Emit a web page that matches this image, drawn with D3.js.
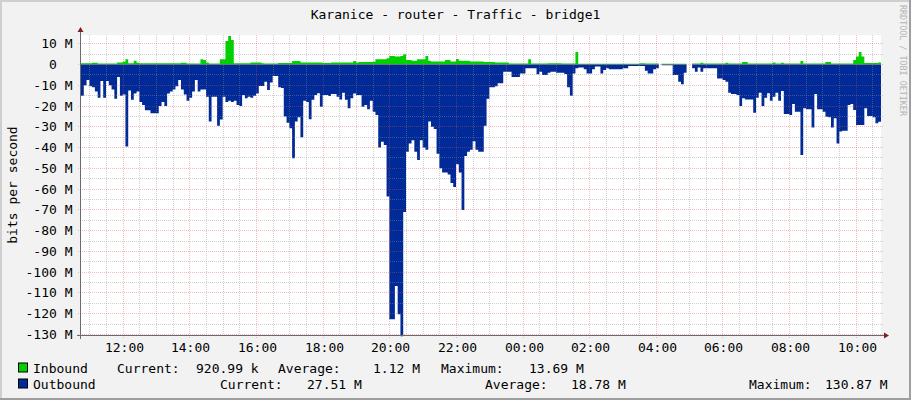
<!DOCTYPE html>
<html><head><meta charset="utf-8">
<script src="https://cdn.jsdelivr.net/npm/d3@7"></script>
<style>
html,body{margin:0;padding:0;background:#f2f2f2;}
svg{display:block;}
text{font-family:"DejaVu Sans Mono",monospace;}
</style></head><body>
<svg id="chart" width="911" height="400"></svg>
<script>
const chartTitle = "Karanice - router - Traffic - bridge1";
const yAxisTitle = "bits per second";
const watermark = "RRDTOOL / TOBI OETIKER";
const startTime = new Date(2024, 4, 14, 10, 44, 24);
const stepMinutes = 5;
const spanHours = 24;
// Mbit/s, 5-minute samples (null = unknown)
const inbound = [
0.6,0.6,0.6,0.6,0.8,0.8,0.5,0.5,0.5,0.5,
0.5,0.5,0.5,0.9,0.9,1.3,2.5,0.6,0.6,1.8,
0.8,0.6,0.6,0.6,0.6,0.6,0.6,0.6,0.6,0.6,
0.6,0.6,0.6,0.6,0.6,0.6,0.8,0.8,0.5,0.5,
0.5,0.5,0.5,2.5,2.2,1.0,0.5,0.5,0.5,0.5,
2.5,2.5,11.3,13.69,11.8,0.6,0.6,0.6,0.6,0.6,
0.6,0.9,0.9,0.9,0.9,0.6,0.5,0.5,0.5,0.5,
0.5,0.7,0.7,0.7,0.7,0.7,1.7,1.7,1.7,0.9,
0.9,1.0,1.0,1.0,1.0,0.9,0.9,0.7,0.7,0.7,
0.9,0.9,0.9,0.9,0.9,1.0,1.0,1.0,1.7,1.0,
1.2,1.2,1.2,1.2,1.2,1.3,2.5,2.5,2.5,2.5,
3.0,4.1,4.1,3.8,3.8,4.1,4.9,2.2,2.2,1.8,
1.8,2.5,2.5,2.5,4.1,1.8,1.4,1.4,1.4,1.4,
1.4,2.2,2.2,1.4,1.4,2.6,1.8,1.8,1.8,1.8,
1.4,1.4,1.4,1.4,1.4,1.2,1.2,1.2,1.2,0.9,
0.9,0.9,0.9,0.9,0.5,0.5,0.5,0.5,0.5,0.5,
0.5,2.5,0.5,0.5,0.5,0.5,0.5,0.5,0.6,0.6,
0.6,0.6,0.6,0.5,0.5,0.5,0.5,0.5,6.0,0.4,
0.4,0.4,0.4,0.4,0.4,0.4,0.4,0.4,0.4,0.4,
0.4,0.4,0.4,0.4,0.4,0.4,0.4,0.4,0.4,0.4,
0.4,0.6,0.6,0.5,0.5,0.5,0.5,0.5,null,0.4,
0.4,0.4,0.4,0.4,0.4,0.4,0.4,0.4,null,null,
0.5,0.5,0.5,0.8,0.5,0.5,0.5,0.5,0.5,0.5,
0.5,0.5,0.8,0.5,0.5,0.5,0.5,0.5,1.2,1.2,
0.5,0.5,0.5,0.5,0.5,0.5,0.5,0.5,0.5,1.0,
0.5,0.5,0.8,0.5,0.5,0.5,0.5,0.5,0.5,1.7,
0.5,0.5,0.5,0.5,0.5,0.5,0.5,0.5,1.2,1.2,
0.5,0.5,0.5,0.5,0.5,0.5,0.5,0.5,2.2,3.8,
6.0,3.8,0.7,0.7,0.7,0.7,0.7,0.92
];
const outbound = [
15,10,7.5,10.5,11,13,16,8,16,8,
10,12,16.5,6,15,14.5,39.5,12.5,17,14,
13,18,19.5,22,22,23.5,23.5,23.5,20,18,
20,14,13,12,10.5,7.5,12,14.5,17.5,16,
13,7.5,13,12,12,15.5,27.5,15.5,15.5,29.5,
26.5,15.5,18,17.5,18,17.5,19.5,20,14.7,16.3,
15.5,16,15,14,10.4,10.4,8.3,12.3,8.7,5.5,
5.5,11,11.3,25,28,30.7,45.2,27.5,25.4,35,
17.4,18,26.4,17,14.7,13.9,20.3,14.7,14.7,15.2,
14.2,14.2,15.5,16.8,13.6,17,21.1,16.3,14,14.7,
14.7,20.3,19.5,21.6,17.4,22.7,24.3,40,37.2,38.8,
63.6,122.7,122.7,106.6,120.2,130.87,71,42,38,36.5,
42,46,36.5,40,41,27.5,30,31,43,50,
52,52,53,57,59,48,52,70,44,42,
41,37,41,42,42,29.5,16.5,11,11,10.5,
9,9,3.5,3.5,3.5,6,6,6,4.3,4.3,
1.8,1.8,1.8,1.8,4.7,3.5,5,5,4,3.5,
3.5,4,4,4,4.6,11,15,4.3,1.8,1.4,
1.4,2.3,4.3,4.3,2.3,1,1,4.3,2.6,1.8,
2.3,2.3,2.3,2.3,2.3,1.8,1.8,0.7,0.7,0.7,
0.7,0.7,0.7,3,4.3,4.3,2.3,1.8,null,0.4,
0.4,0.4,0.4,5,5,8.3,9.5,4,null,null,
1.8,3.5,1.4,3.5,1.8,1.8,1.8,1.8,1.8,6.7,
6.7,7.5,8.3,13.6,14.2,14.2,14.7,20,16.3,16.8,
16.8,16.8,23.2,16,13.6,20,16,13.9,17.4,15.5,
13.6,17.4,12.8,23.8,23.8,24.3,19,22.7,22.7,43.6,
21.1,21.6,21.6,30.3,14.2,21.6,21.6,22.7,25.1,25.4,
30.3,25.9,38,32.3,31.9,31.9,19.5,19,21.9,29.1,
29.1,29.1,21.1,24.8,24.8,25.4,28.3,27.51
];
const yTickValues = [10,0,-10,-20,-30,-40,-50,-60,-70,-80,-90,-100,-110,-120,-130];
const yMinorValues = [5,-5,-15,-25,-35,-45,-55,-65,-75,-85,-95,-105,-115,-125];
const seriesNames = ["Inbound", "Outbound"];
const seriesColors = ["#00CF00", "#002A97"];
const statLabels = ["Current:", "Average:", "Maximum:"];
const inboundStats = ["920.99 k", "1.12 M", "13.69 M"];
const outboundStats = ["27.51 M", "18.78 M", "130.87 M"];

const W = 911, H = 400;
const X0 = 81, X1 = 881, Y0 = 335, Y1 = 35;
const FS = 13;
const svg = d3.select("#chart");

const endTime = new Date(+startTime + spanHours*3600e3);
const x = d3.scaleTime().domain([startTime, endTime]).range([X0, X1]);
const y = d3.scaleLinear().domain([-130.24, 14.2]).range([Y0, Y1]);

// background + 3D border
svg.append("rect").attr("width", W).attr("height", H).attr("fill", "#f2f2f2");
svg.append("path").attr("d", `M0,0H${W}V2H2V${H}H0Z`).attr("fill", "#cfcfcf");
svg.append("path").attr("d", `M${W},${H}H0V${H-2}H${W-2}V0H${W}Z`).attr("fill", "#9e9e9e");
svg.append("rect").attr("x", X0).attr("y", Y1).attr("width", X1-X0).attr("height", Y0-Y1).attr("fill", "#ffffff");

// series as step areas
function stepPoints(arr, sign) {
  const pts = [];
  arr.forEach((v, i) => {
    const t0 = new Date(+startTime + i*stepMinutes*60e3);
    const t1 = new Date(+startTime + (i+1)*stepMinutes*60e3);
    if (v == null) { pts.push(null); return; }
    pts.push({t: t0, v: sign*v}, {t: t1 > endTime ? endTime : t1, v: sign*v});
  });
  return pts;
}
const area = d3.area()
  .defined(d => d != null)
  .x(d => x(d.t))
  .y0(y(0))
  .y1(d => y(d.v));
svg.append("path").datum(stepPoints(inbound, 1)).attr("d", area).attr("fill", seriesColors[0]);
svg.append("path").datum(stepPoints(outbound, -1)).attr("d", area).attr("fill", seriesColors[1]);

// grid (drawn on top like rrdtool)
const grid = svg.append("g").attr("stroke-width", 1).attr("stroke-dasharray", "1,1").attr("fill", "none");
const px = v => Math.floor(v) + 0.5;
const minorCol = "rgba(143,143,143,0.42)";
const majorCol = "rgba(222,79,79,0.38)";
yMinorValues.forEach(v => {
  grid.append("line").attr("x1", X0-1).attr("x2", X1+2).attr("y1", px(y(v))).attr("y2", px(y(v)))
    .attr("stroke", minorCol);
});
const minorTimes = d3.timeMinute.every(30).range(startTime, endTime).filter(t => !(t.getMinutes() === 0 && t.getHours() % 2 === 0));
minorTimes.forEach(t => {
  grid.append("line").attr("y1", Y1).attr("y2", Y0+2).attr("x1", px(x(t))).attr("x2", px(x(t)))
    .attr("stroke", minorCol);
});
yTickValues.forEach(v => {
  grid.append("line").attr("x1", X0-3).attr("x2", X1+2).attr("y1", px(y(v))).attr("y2", px(y(v)))
    .attr("stroke", majorCol);
});
const majorTimes = d3.timeHour.every(2).range(startTime, endTime);
majorTimes.forEach(t => {
  grid.append("line").attr("y1", Y1).attr("y2", Y0+3).attr("x1", px(x(t))).attr("x2", px(x(t)))
    .attr("stroke", majorCol);
});

// axes
svg.append("line").attr("x1", X0-4).attr("x2", X1+4).attr("y1", Y0+0.5).attr("y2", Y0+0.5).attr("stroke", "#6a6a6a");
svg.append("line").attr("x1", X0-0.5).attr("x2", X0-0.5).attr("y1", Y0+4).attr("y2", Y1-4).attr("stroke", "#6a6a6a");
svg.append("path").attr("d", `M${X1+3},${Y0-2.5}L${X1+8},${Y0+0.5}L${X1+3},${Y0+3.5}Z`).attr("fill", "#801f1f");
svg.append("path").attr("d", `M${X0-3.5},${Y1-3}L${X0-0.5},${Y1-8}L${X0+2.5},${Y1-3}Z`).attr("fill", "#801f1f");

// y labels
const charW = FS*0.602;
const fmtY = v => v === 0 ? "0" : `${v} M`;
svg.append("g").selectAll("text").data(yTickValues).join("text")
  .attr("x", v => v === 0 ? 72.5 - 2*charW : 72.5)
  .attr("y", v => px(y(v)) + 4.5)
  .attr("text-anchor", "end").attr("font-size", FS).attr("fill", "#000")
  .text(fmtY);

// x labels
const fmtX = d3.timeFormat("%H:%M");
svg.append("g").selectAll("text").data(majorTimes).join("text")
  .attr("x", t => px(x(t)) + 1)
  .attr("y", 351.5)
  .attr("text-anchor", "middle").attr("font-size", FS).attr("fill", "#000")
  .text(fmtX);

// titles
svg.append("text").attr("x", 455.5).attr("y", 19).attr("text-anchor", "middle")
  .attr("font-size", FS).attr("fill", "#000").text(chartTitle);
svg.append("text").attr("transform", `translate(16.5,${(Y0+Y1)/2}) rotate(-90)`).attr("text-anchor", "middle")
  .attr("font-size", FS).attr("fill", "#000").text(yAxisTitle);
svg.append("text").attr("transform", `translate(899.5,5) rotate(90)`)
  .attr("font-size", 8.4).attr("fill", "#b4b4b4").text(watermark);

// legend
const legendRows = [
  {name: seriesNames[0], color: seriesColors[0], stats: inboundStats, y: 372.5,
   labelX: [117, 278, 441], valueX: [196, 373, 529]},
  {name: seriesNames[1], color: seriesColors[1], stats: outboundStats, y: 388.5,
   labelX: [220, 485, 749], valueX: [307, 571, 825]}
];
legendRows.forEach(r => {
  const g = svg.append("g").attr("font-size", FS).attr("fill", "#000");
  svg.append("rect").attr("x", 18.5).attr("y", r.y - 9.5).attr("width", 9).attr("height", 9)
    .attr("fill", r.color).attr("stroke", "#000").attr("stroke-width", 1);
  g.append("text").attr("x", 33).attr("y", r.y).text(r.name);
  statLabels.forEach((lab, i) => {
    g.append("text").attr("x", r.labelX[i]).attr("y", r.y).text(lab);
    g.append("text").attr("x", r.valueX[i]).attr("y", r.y).text(r.stats[i]);
  });
});
</script>
</body></html>
